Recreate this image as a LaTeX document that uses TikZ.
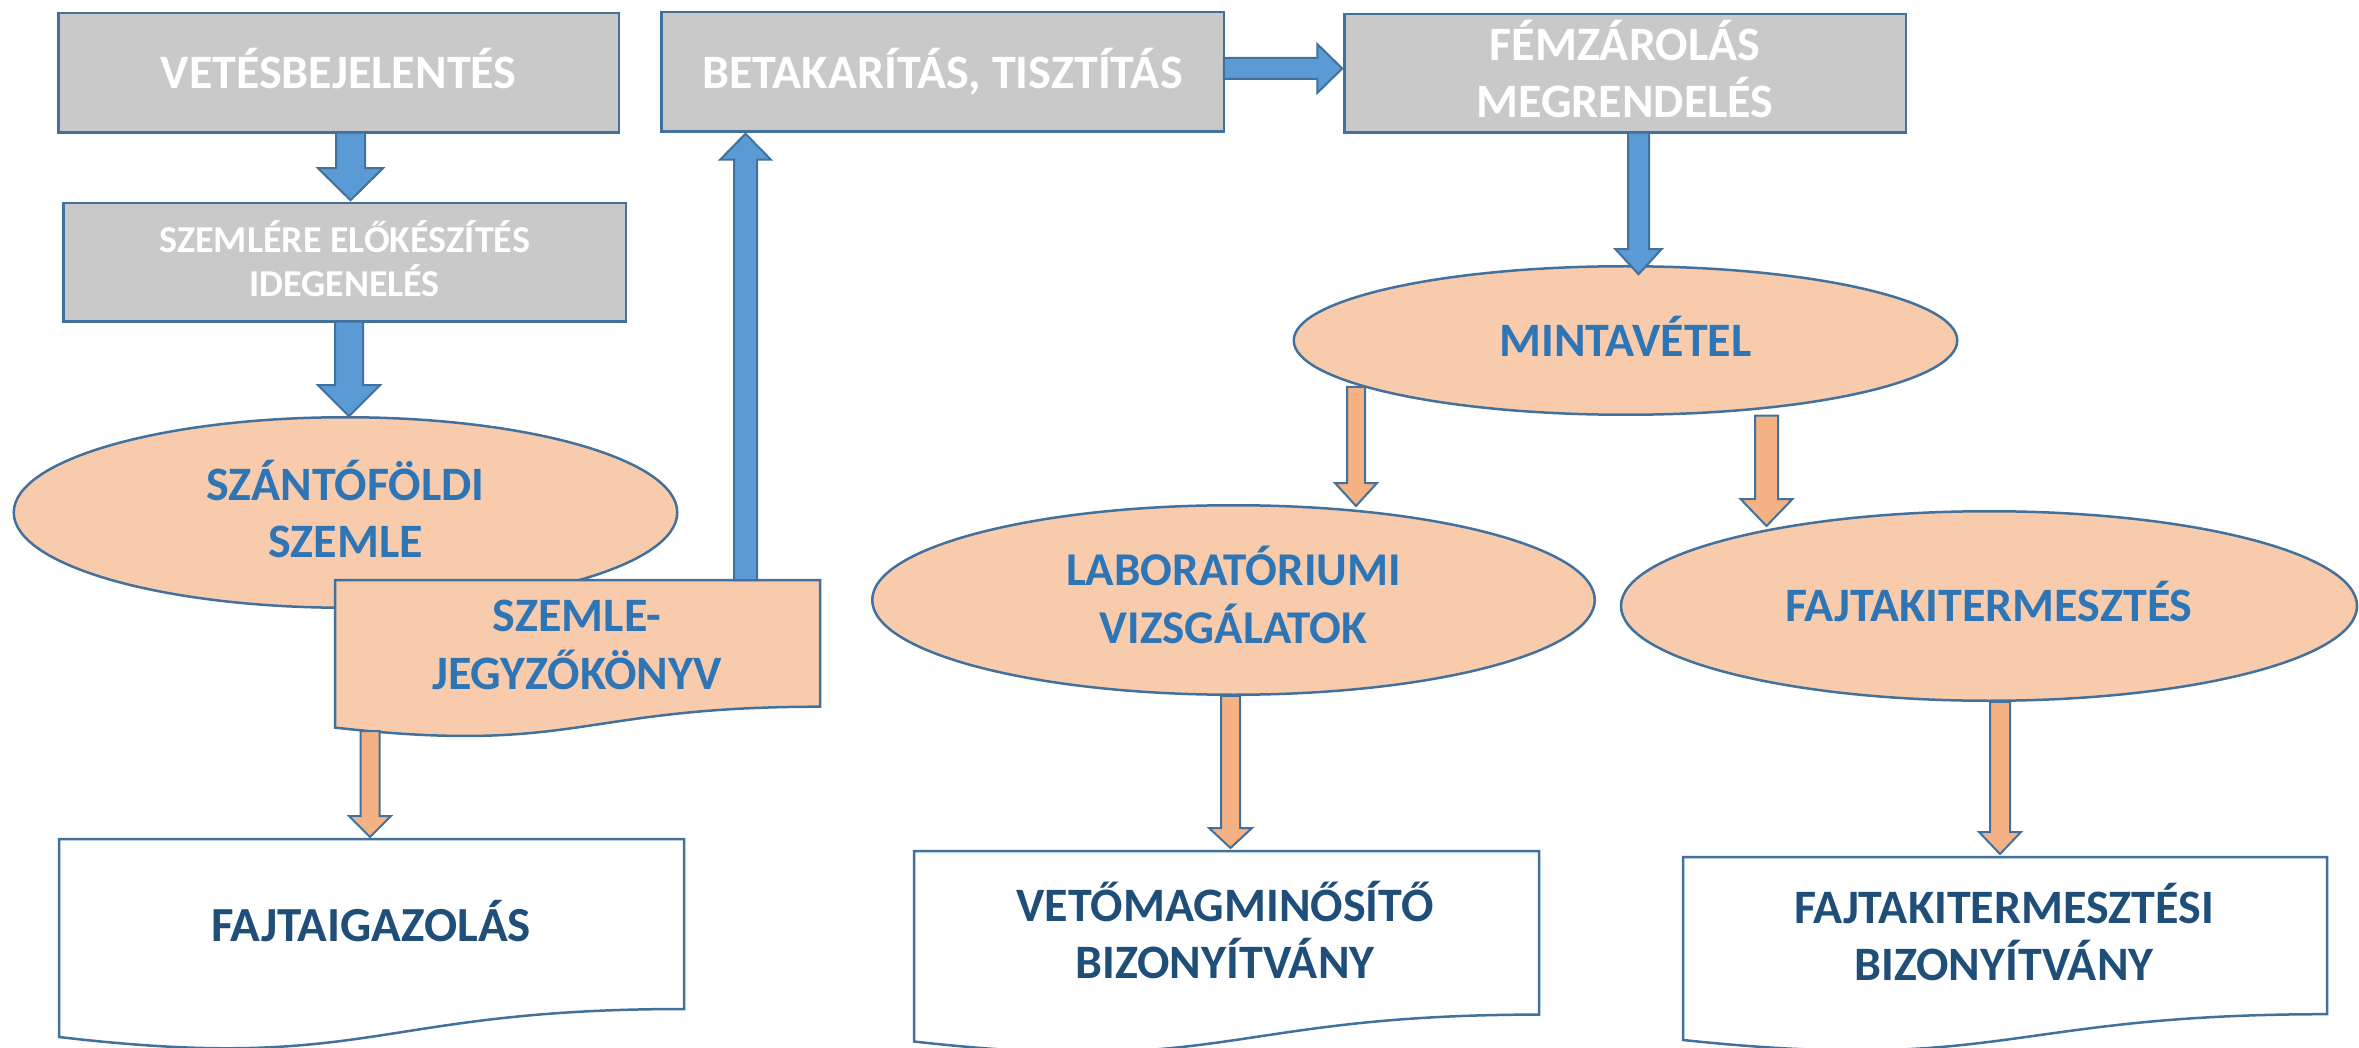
\documentclass[tikz,border=0pt]{standalone}
\usepackage{fontspec}
\setmainfont{Carlito}
\usetikzlibrary{shapes.geometric,calc}
\definecolor{bordc}{HTML}{41719C}
\definecolor{grayf}{HTML}{C9C9C9}
\definecolor{bluearr}{HTML}{5B9BD5}
\definecolor{orf}{HTML}{F8CBAD}
\definecolor{orarr}{HTML}{F4B183}
\definecolor{txtblue}{HTML}{2E75B6}
\definecolor{txtdark}{HTML}{1F4E79}
\newcommand\twoln[2]{\vtop{\hbox to 0pt{\hss#1\hss}\hbox to 0pt{\hss#2\hss}}}
\newcommand\myfs[2]{\fontsize{#1}{#2}\selectfont\bfseries}
\newcommand\blockarrow[6]{%
  \coordinate (ba-a) at #2;
  \coordinate (ba-b) at #3;
  \coordinate (ba-c) at ($(ba-b)!#6!(ba-a)$);
  \draw[#1] ($(ba-a)!#4!90:(ba-b)$) -- ($(ba-c)!#4!90:(ba-b)$) -- ($(ba-c)!#5!90:(ba-b)$)
    -- (ba-b) -- ($(ba-c)!#5!-90:(ba-b)$) -- ($(ba-c)!#4!-90:(ba-b)$) -- ($(ba-a)!#4!-90:(ba-b)$) -- cycle;
}
\tikzset{
  every node/.style={inner sep=0pt, outer sep=0pt},
  graybox/.style={rectangle, draw=bordc, line width=2.5pt, fill=grayf, text=white},
  oval/.style={ellipse, draw=bordc, line width=2.5pt, fill=orf, text=txtblue},
  docline/.style={draw=bordc, line width=2.5pt},
  doctext/.style={text=txtdark},
  barrow/.style={draw=bordc, fill=bluearr, line width=2pt},
  oarrow/.style={draw=bordc, fill=orarr, line width=2pt}
}
\begin{document}
\begin{tikzpicture}[x=1pt,y=-1pt]
\fill[white] (0,0) rectangle (2359,1048);
\useasboundingbox (0,0) rectangle (2359,1048);

% gray boxes
\node[graybox, minimum width=560.5pt, minimum height=119.5pt, font=\myfs{48}{57}, text height=30.6pt, text depth=0pt] (v1) at (338.5,73) {VETÉSBEJELENTÉS};
\node[graybox, minimum width=562.5pt, minimum height=118.5pt, font=\myfs{38}{44}, text height=25pt, text depth=44pt] (v2) at (344.5,262.5) {\twoln{SZEMLÉRE ELŐKÉSZÍTÉS}{IDEGENELÉS}};
\node[graybox, minimum width=562.5pt, minimum height=119.5pt, font=\myfs{48}{57}, text height=32.6pt, text depth=0pt] (b1) at (942.5,72) {BETAKARÍTÁS, TISZTÍTÁS};
\node[graybox, minimum width=561.5pt, minimum height=118.5pt, font=\myfs{48}{56.6}, text height=31pt, text depth=56.6pt] (f1) at (1625,73.5) {\twoln{FÉMZÁROLÁS}{MEGRENDELÉS}};

% ellipses
\node[oval, minimum width=663.5pt, minimum height=190.5pt, font=\myfs{48}{58}, text height=33pt, text depth=58pt] (e1) at (345.5,512.5) {\twoln{SZÁNTÓFÖLDI}{SZEMLE}};
\node[oval, minimum width=663.5pt, minimum height=148.5pt, font=\myfs{48}{57}, text height=32.4pt, text depth=0pt] (e2) at (1625.5,340.5) {MINTAVÉTEL};
\node[oval, minimum width=722.5pt, minimum height=189.5pt, font=\myfs{47}{57.5}, text height=28.5pt, text depth=57.5pt] (e3) at (1233.5,600) {\twoln{LABORATÓRIUMI}{VIZSGÁLATOK}};
\node[oval, minimum width=736pt, minimum height=189.5pt, font=\myfs{48}{57}, text height=30pt, text depth=0pt] (e4) at (1989,606) {FAJTAKITERMESZTÉS};

% documents
\coordinate (d1nw) at (335,580);
\draw[docline, fill=orf] (d1nw) -- (820,580) -- (820,706.7) .. controls (577.5,706.7) and (577.5,754.9) .. (335,727.6) -- cycle;
\node[font=\myfs{48}{58}, text=txtblue, text height=30pt, text depth=58pt] (d1) at (577,645) {\twoln{SZEMLE-}{JEGYZŐKÖNYV}};

\coordinate (d2nw) at (59,839);
\draw[docline, fill=white] (d2nw) -- (684,839) -- (684,1009) .. controls (371.5,1009) and (371.5,1073.7) .. (59,1037) -- cycle;
\node[doctext, font=\myfs{49}{58}, text height=30pt, text depth=0pt] (d2) at (371,926) {FAJTAIGAZOLÁS};

\coordinate (d3nw) at (914,851);
\draw[docline, fill=white] (d3nw) -- (1539,851) -- (1539,1014.6) .. controls (1226.5,1014.6) and (1226.5,1076.8) .. (914,1041.5) -- cycle;
\node[doctext, font=\myfs{48}{57}, text height=29pt, text depth=57pt] (d3) at (1225,935) {\twoln{VETŐMAGMINŐSÍTŐ}{BIZONYÍTVÁNY}};

\coordinate (d4nw) at (1683,857);
\draw[docline, fill=white] (d4nw) -- (2327,857) -- (2327,1014.2) .. controls (2005,1014.2) and (2005,1074) .. (1683,1040) -- cycle;
\node[doctext, font=\myfs{48}{57}, text height=29.6pt, text depth=57pt] (d4) at (2004,937) {\twoln{FAJTAKITERMESZTÉSI}{BIZONYÍTVÁNY}};

% blue block arrows
\blockarrow{barrow}{($(v1.south)+(12,0)$)}{($(v2.north)+(6,-3)$)}{14.5pt}{32.5pt}{32pt}
\blockarrow{barrow}{($(v2.south)+(4.5,0)$)}{($(e1.north)+(3.5,-1)$)}{14pt}{31pt}{31pt}
\blockarrow{barrow}{($(d1nw)+(410.5,0)$)}{($(b1.south)+(-197,2)$)}{11.5pt}{25.5pt}{26pt}
\blockarrow{barrow}{($(b1.east)+(0,-3.5)$)}{($(f1.west)+(-2,-5)$)}{10.5pt}{24.5pt}{25pt}
\blockarrow{barrow}{($(f1.south)+(13.5,0)$)}{($(e2.north)+(13,8)$)}{10.5pt}{23pt}{25pt}

% orange block arrows
\blockarrow{oarrow}{($(e2.center)+(-269.5,46.5)$)}{($(e3.center)+(122.5,-94)$)}{9pt}{21pt}{23pt}
\blockarrow{oarrow}{($(e2.south)+(141,1)$)}{($(e4.center)+(-222.5,-80)$)}{11.5pt}{26pt}{27pt}
\blockarrow{oarrow}{($(e3.south)+(-3,1)$)}{($(d3nw)+(316.5,-3)$)}{9.5pt}{21.5pt}{20pt}
\blockarrow{oarrow}{($(e4.south)+(11,1)$)}{($(d4nw)+(317,-3)$)}{10pt}{21pt}{22pt}
\blockarrow{oarrow}{($(d1nw)+(35,151)$)}{($(d2nw)+(311,-2)$)}{9.5pt}{21pt}{21pt}
\end{tikzpicture}
\end{document}
